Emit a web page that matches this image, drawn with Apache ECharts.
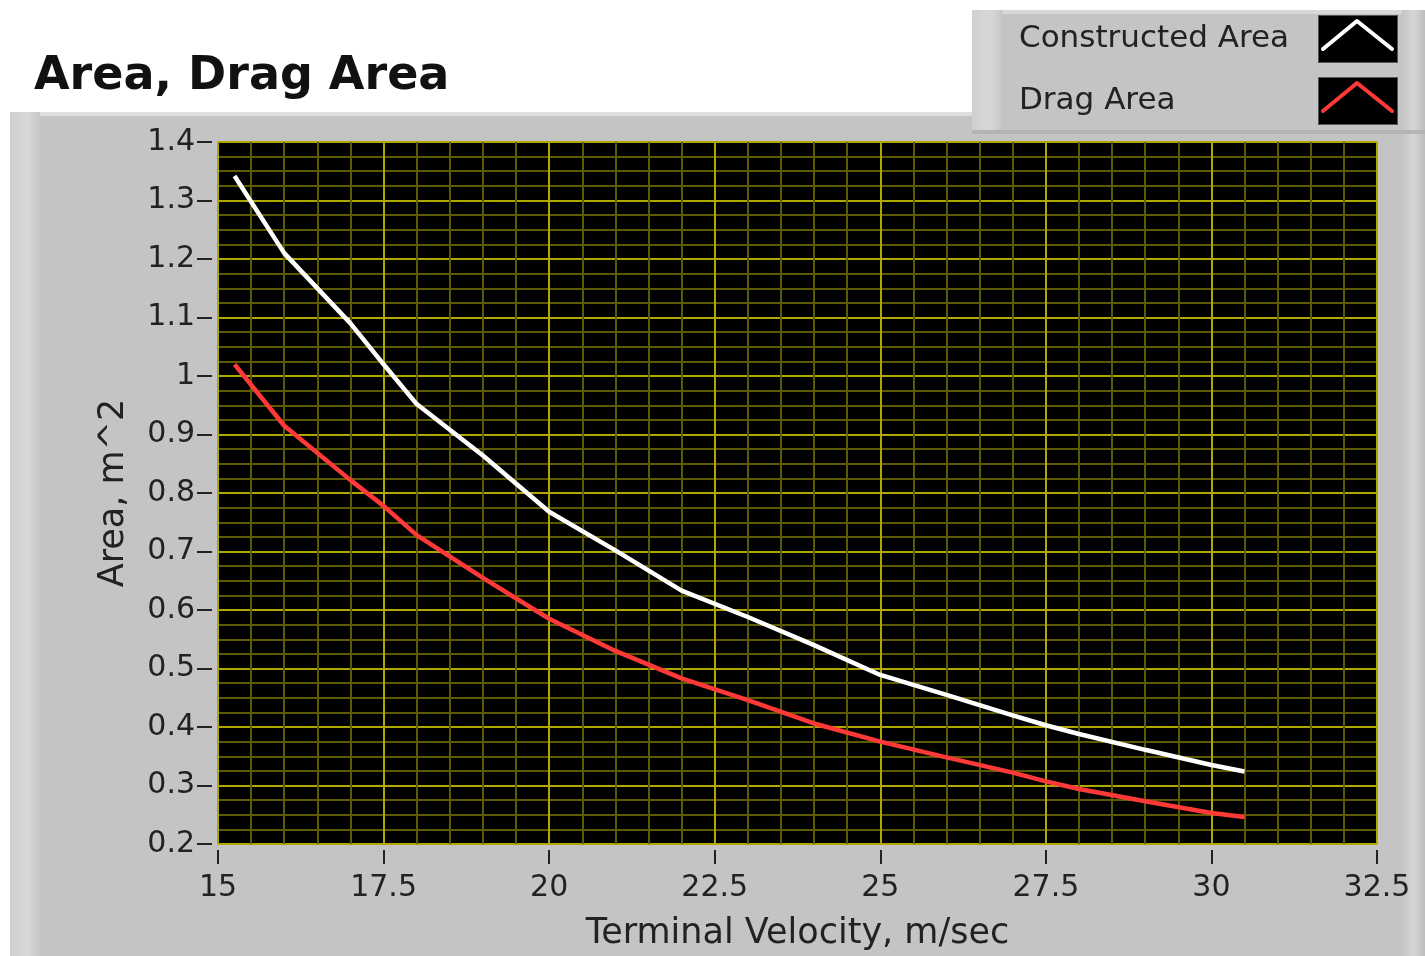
<!DOCTYPE html>
<html>
<head>
<meta charset="utf-8">
<script src="https://cdn.jsdelivr.net/npm/echarts@6/dist/echarts.min.js"></script>
<style>
html,body{margin:0;padding:0;background:#fff;}
#chart{width:1425px;height:956px;}
</style>
</head>
<body>
<div id="chart"></div>
<script>
// ---- data ----
const velocity = [15.25, 16, 17, 17.5, 18, 19, 20, 21, 22, 23, 24, 25, 26, 27, 27.5, 28, 29, 30, 30.5];
const constructedArea = [1.342, 1.210, 1.090, 1.020, 0.952, 0.864, 0.768, 0.702, 0.633, 0.588, 0.540, 0.489, 0.455, 0.420, 0.403, 0.388, 0.361, 0.335, 0.324];
const dragArea = [1.020, 0.915, 0.822, 0.778, 0.728, 0.655, 0.585, 0.530, 0.483, 0.446, 0.406, 0.375, 0.348, 0.322, 0.307, 0.294, 0.273, 0.253, 0.246];
const seriesNames = ['Constructed Area', 'Drag Area'];
const seriesColors = ['#ffffff', '#ff3838'];
const titleText = 'Area, Drag Area';
const xAxisName = 'Terminal Velocity, m/sec';
const yAxisName = 'Area, m^2';

function iconFor(color) {
  const svg = '<svg xmlns="http://www.w3.org/2000/svg" width="80" height="48" viewBox="0 0 80 48">' +
    '<rect x="0.5" y="0.5" width="79" height="47" fill="#000" stroke="#555" stroke-width="1"/>' +
    '<polyline points="5,34 39,6 74,34" fill="none" stroke="' + color + '" stroke-width="4" stroke-linecap="round" stroke-linejoin="round"/>' +
    '</svg>';
  return 'image://data:image/svg+xml;charset=utf-8,' + encodeURIComponent(svg);
}

const chart = echarts.init(document.getElementById('chart'), null, {renderer: 'canvas'});
const FONT = 'DejaVu Sans';

chart.setOption({
  backgroundColor: '#ffffff',
  animation: false,
  graphic: [
    // main grey panel
    {type: 'rect', z: -10, silent: true, shape: {x: 10, y: 112, width: 1415, height: 844}, style: {fill: '#c4c4c4'}},
    {type: 'rect', z: -9, silent: true, shape: {x: 10, y: 112, width: 1415, height: 4}, style: {fill: '#dedede'}},
    {type: 'rect', z: -9, silent: true, shape: {x: 10, y: 112, width: 30, height: 844},
      style: {fill: new echarts.graphic.LinearGradient(0, 0, 1, 0, [{offset: 0, color: '#d0d0d0'}, {offset: 0.6, color: '#d8d8d8'}, {offset: 1, color: '#c6c6c6'}])}},
    {type: 'rect', z: -9, silent: true, shape: {x: 1402, y: 112, width: 23, height: 844},
      style: {fill: new echarts.graphic.LinearGradient(0, 0, 1, 0, [{offset: 0, color: '#c4c4c4'}, {offset: 0.5, color: '#d6d6d6'}, {offset: 1, color: '#bcbcbc'}])}},
    // legend panel
    {type: 'rect', z: -8, silent: true, shape: {x: 972, y: 10, width: 453, height: 124}, style: {fill: '#b4b4b4'}},
    {type: 'rect', z: -7, silent: true, shape: {x: 972, y: 10, width: 453, height: 120}, style: {fill: '#c4c4c4'}},
    {type: 'rect', z: -7, silent: true, shape: {x: 972, y: 10, width: 453, height: 4}, style: {fill: '#d8d8d8'}},
    {type: 'rect', z: -7, silent: true, shape: {x: 972, y: 10, width: 30, height: 120},
      style: {fill: new echarts.graphic.LinearGradient(0, 0, 1, 0, [{offset: 0, color: '#d0d0d0'}, {offset: 0.6, color: '#d8d8d8'}, {offset: 1, color: '#c6c6c6'}])}},
    {type: 'rect', z: -7, silent: true, shape: {x: 1402, y: 10, width: 23, height: 120},
      style: {fill: new echarts.graphic.LinearGradient(0, 0, 1, 0, [{offset: 0, color: '#c4c4c4'}, {offset: 0.5, color: '#d6d6d6'}, {offset: 1, color: '#bcbcbc'}])}}
  ],
  title: {
    text: titleText,
    left: 34,
    top: 54,
    padding: 0,
    textStyle: {fontFamily: FONT, fontSize: 46, fontWeight: 'bold', color: '#111'}
  },
  legend: {
    orient: 'vertical',
    left: 1019,
    top: 15,
    padding: 0,
    align: 'right',
    itemWidth: 80,
    itemHeight: 48,
    itemGap: 14,
    selectedMode: false,
    formatter: '{t|{name}}',
    textStyle: {
      fontFamily: FONT, fontSize: 31, color: '#222',
      rich: {t: {fontFamily: FONT, fontSize: 31, color: '#222', width: 294, align: 'left'}}
    },
    data: seriesNames.map((n, i) => ({name: n, icon: iconFor(seriesColors[i])}))
  },
  grid: {
    left: 218, top: 142, right: 48, bottom: 110,
    show: true,
    backgroundColor: '#000000',
    borderColor: '#9a9a9a',
    borderWidth: 1
  },
  xAxis: {
    type: 'value',
    min: 15, max: 32.5, interval: 2.5,
    offset: 6,
    name: xAxisName,
    nameLocation: 'middle',
    nameGap: 66,
    nameTextStyle: {fontFamily: FONT, fontSize: 35, color: '#222'},
    axisLine: {show: false},
    axisTick: {show: true, length: 14, lineStyle: {color: '#222', width: 2}},
    axisLabel: {fontFamily: FONT, fontSize: 30, color: '#222', margin: 23,
      formatter: v => String(+v.toFixed(1))},
    splitLine: {show: true, lineStyle: {color: '#b0a800', width: 2}},
    minorTick: {show: false, splitNumber: 5},
    minorSplitLine: {show: true, lineStyle: {color: '#5e5a00', width: 2}}
  },
  yAxis: {
    type: 'value',
    min: 0.2, max: 1.4, interval: 0.1,
    offset: 6,
    name: yAxisName,
    nameLocation: 'middle',
    nameGap: 81,
    nameTextStyle: {fontFamily: FONT, fontSize: 35, color: '#222'},
    axisLine: {show: false},
    axisTick: {show: true, length: 15, lineStyle: {color: '#222', width: 2}},
    axisLabel: {fontFamily: FONT, fontSize: 30, color: '#222', margin: 17,
      formatter: v => String(+v.toFixed(1))},
    splitLine: {show: true, lineStyle: {color: '#b0a800', width: 2}},
    minorTick: {show: false, splitNumber: 4},
    minorSplitLine: {show: true, lineStyle: {color: '#5e5a00', width: 2}}
  },
  series: [
    {
      name: seriesNames[0], type: 'line', showSymbol: false, symbol: 'none',
      data: velocity.map((v, i) => [v, constructedArea[i]]),
      lineStyle: {color: seriesColors[0], width: 4.5},
      itemStyle: {color: seriesColors[0]},
      smooth: false, z: 3
    },
    {
      name: seriesNames[1], type: 'line', showSymbol: false, symbol: 'none',
      data: velocity.map((v, i) => [v, dragArea[i]]),
      lineStyle: {color: seriesColors[1], width: 4.5},
      itemStyle: {color: seriesColors[1]},
      smooth: false, z: 2
    }
  ]
});
</script>
</body>
</html>
